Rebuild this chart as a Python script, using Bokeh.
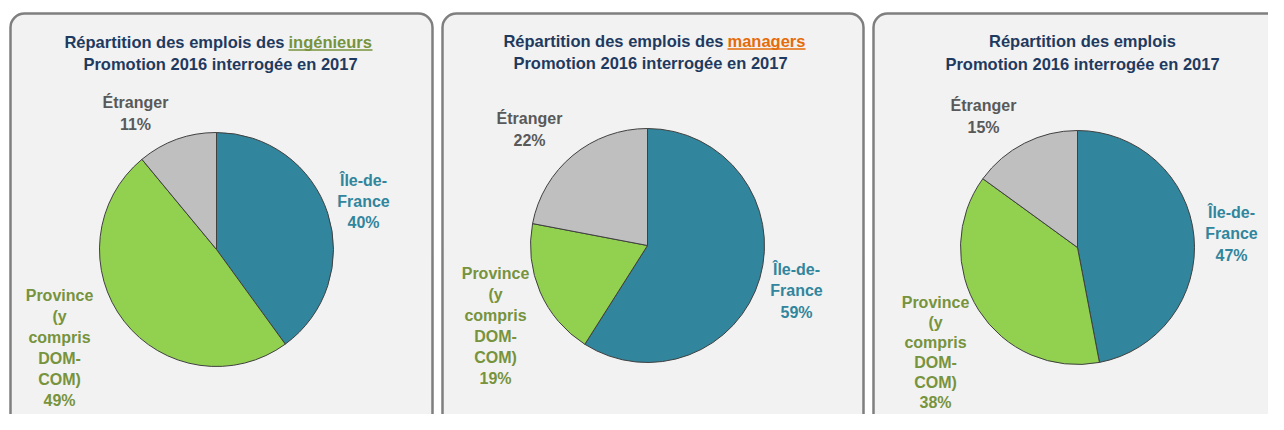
import numpy as np
from bokeh.plotting import figure
from bokeh.models import Range1d, BoxAnnotation, ColumnDataSource
from bokeh.core.properties import value
from bokeh.embed import file_html
from bokeh.resources import INLINE

# ---------------- data ----------------
regions = ["Île-de-France", "Province (y compris DOM-COM)", "Étranger"]
ingenieurs = [40, 49, 11]
managers = [59, 19, 22]
ensemble = [47, 38, 15]
slice_colors = ["#31859C", "#92D050", "#BFBFBF"]
label_colors = ["#31859C", "#77933C", "#595959"]
label_lines = [["Île-de-", "France"], ["Province", "(y", "compris", "DOM-", "COM)"], ["Étranger"]]
title_prefix = ["Répartition des emplois des", "Répartition des emplois des", "Répartition des emplois"]
title_word = ["ingénieurs", "managers", ""]
title_word_colors = ["#77933C", "#E46C0A", None]
subtitle = "Promotion 2016 interrogée en 2017"

W, H = 1268, 414
SH = 430  # data y = SH - screen_y

p = figure(width=W, height=H, output_backend="svg", toolbar_location=None,
           x_range=Range1d(0, W), y_range=Range1d(SH - H, SH),
           min_border=0, background_fill_color="white", border_fill_color="white")
p.axis.visible = False
p.grid.visible = False
p.outline_line_color = None

FONT = value("Liberation Sans")
TITLE_COL = "#1F3A60"

# panel layout (screen coordinates)
panels = [
    dict(l=10, r=432, cx=216, cy=249, rad=117, t1=41, t2=63, split=288, tcx=220, wlen=84,
         lab=[(363, [180, 201, 222]), (59, [295, 316, 337, 358, 379, 400]), (135, [102, 124])]),
    dict(l=442, r=863, cx=647, cy=245, rad=117, t1=40, t2=62, split=727, tcx=650, wlen=78,
         lab=[(796, [269, 290, 312]), (495, [273, 294, 315, 336, 357, 378]), (529, [118, 140])]),
    dict(l=873, r=1283, cx=1077, cy=247, rad=117, t1=40, t2=63, split=None, tcx=1082, wlen=0,
         lab=[(1231, [212, 233, 255]), (935, [302, 322, 342, 362, 382, 402]), (983, [105, 127])]),
]
datasets = [ingenieurs, managers, ensemble]

for i, (pn, vals) in enumerate(zip(panels, datasets)):
    p.add_layout(BoxAnnotation(left=pn["l"], right=pn["r"], top=SH - 13, bottom=SH - 433,
                               fill_color="#F2F2F2", fill_alpha=1.0,
                               line_color="#7F7F7F", line_alpha=1.0, line_width=2.5,
                               border_radius=14, level="underlay"))
    # pie wedges: start at top, go clockwise
    v = np.array(vals, dtype=float)
    frac = v / v.sum()
    cum = np.concatenate([[0], np.cumsum(frac)])
    start = np.pi / 2 - cum[1:] * 2 * np.pi
    end = np.pi / 2 - cum[:-1] * 2 * np.pi
    src = ColumnDataSource(dict(x=[pn["cx"]] * 3, y=[SH - pn["cy"]] * 3,
                                start=start, end=end, color=slice_colors))
    p.wedge(x="x", y="y", radius=pn["rad"], start_angle="start", end_angle="end",
            fill_color="color", line_color="#404040", line_width=1, source=src)
    # labels
    for k in range(3):
        lx, ly = pn["lab"][k]
        lines = label_lines[k] + [f"{vals[k]}%"]
        p.text(x=[lx] * len(lines), y=[SH - yy for yy in ly], text=lines,
               text_align="center", text_baseline="middle", text_font=FONT,
               text_font_style="bold", text_font_size="16px", text_color=label_colors[k])
    # titles
    if title_word[i]:
        p.text(x=[pn["split"] - 4], y=[SH - pn["t1"]], text=[title_prefix[i]],
               text_align="right", text_baseline="middle", text_font=FONT,
               text_font_style="bold", text_font_size="16.5px", text_color=TITLE_COL)
        p.text(x=[pn["split"]], y=[SH - pn["t1"]], text=[title_word[i]],
               text_align="left", text_baseline="middle", text_font=FONT,
               text_font_style="bold", text_font_size="16.5px", text_color=title_word_colors[i])
        p.segment(x0=[pn["split"]], y0=[SH - pn["t1"] - 8.5], x1=[pn["split"] + pn["wlen"]],
                  y1=[SH - pn["t1"] - 8.5], line_color=title_word_colors[i], line_width=1.5)
    else:
        p.text(x=[pn["tcx"]], y=[SH - pn["t1"]], text=[title_prefix[i]],
               text_align="center", text_baseline="middle", text_font=FONT,
               text_font_style="bold", text_font_size="16.5px", text_color=TITLE_COL)
    p.text(x=[pn["tcx"]], y=[SH - pn["t2"]], text=[subtitle],
           text_align="center", text_baseline="middle", text_font=FONT,
           text_font_style="bold", text_font_size="16.5px", text_color=TITLE_COL)

open("out.html", "w").write(file_html(p, INLINE))
